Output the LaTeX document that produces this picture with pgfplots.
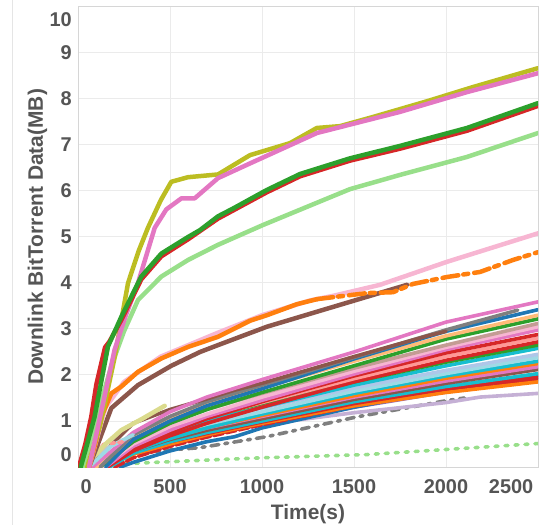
\documentclass[border=0pt]{standalone}
\usepackage{fontspec}
\setmainfont{Liberation Sans}
\usepackage{pgfplots}
\pgfplotsset{compat=1.18}

\definecolor{textgray}{HTML}{555555}
\definecolor{gridgray}{HTML}{EBEBEB}
\definecolor{bordergray}{HTML}{D6D6D6}
\definecolor{tbblue}{HTML}{1F77B4}
\definecolor{tborange}{HTML}{FF7F0E}
\definecolor{tbgreen}{HTML}{2CA02C}
\definecolor{tbred}{HTML}{D62728}
\definecolor{tbpurple}{HTML}{9467BD}
\definecolor{tbbrown}{HTML}{8C564B}
\definecolor{tbpink}{HTML}{E377C2}
\definecolor{tbgray}{HTML}{7F7F7F}
\definecolor{tbolive}{HTML}{BCBD22}
\definecolor{tbcyan}{HTML}{17BECF}
\definecolor{ltblue}{HTML}{AEC7E8}
\definecolor{ltorange}{HTML}{FFBB78}
\definecolor{ltgreen}{HTML}{98DF8A}
\definecolor{ltred}{HTML}{FF9896}
\definecolor{ltpurple}{HTML}{C5B0D5}
\definecolor{ltbrown}{HTML}{C49C94}
\definecolor{ltpink}{HTML}{F7B6D2}
\definecolor{ltgray}{HTML}{C7C7C7}
\definecolor{ltolive}{HTML}{DBDB8D}
\definecolor{ltcyan}{HTML}{9EDAE5}

\begin{document}
\begin{tikzpicture}
\useasboundingbox (-78bp,-58bp) rectangle (469bp,467bp);
\draw[draw=black!10, line width=1bp] (-65bp,-58bp) -- (-65bp,467bp);
\begin{axis}[
    scale only axis,
    width=460bp, height=460bp,
    xmin=0, xmax=2500, ymin=0, ymax=10,
    xtick={0,500,1000,1500,2000,2500},
    xticklabels={\makebox[0pt][l]{\hspace{2.5bp}0},500,1000,1500,2000,\makebox[0pt][r]{2500\hspace{4.75bp}}},
    ytick={0,1,2,3,4,5,6,7,8,9,10},
    yticklabels={\raisebox{6bp}[0pt][0pt]{0},1,2,3,4,5,6,7,8,9,\raisebox{-19.5bp}[0pt][0pt]{10}},
    /pgf/number format/assume math mode=true,
    major tick length=0pt,
    grid=major,
    grid style={draw=gridgray, line width=1bp},
    axis line style={draw=bordergray, line width=1bp},
    xticklabel style={font=\fontsize{20}{24}\selectfont\bfseries, text=textgray, inner sep=0pt, anchor=north, yshift=-12bp},
    yticklabel style={font=\fontsize{20}{24}\selectfont\bfseries, text=textgray, inner sep=0pt, anchor=east, xshift=-6bp},
    xlabel={Time(s)},
    ylabel={Downlink BitTorrent Data(MB)},
    xlabel style={at={(axis description cs:0.5,-0.0804)}, anchor=north, inner sep=0pt, font=\fontsize{21}{25}\selectfont\bfseries, text=textgray},
    ylabel style={at={(axis description cs:-0.0761,0.5)}, anchor=base, inner sep=0pt, font=\fontsize{21}{25}\selectfont\bfseries, text=textgray},
    every axis plot/.append style={line join=round, line cap=round},
    clus/.style={line width=3.6bp},
    big/.style={line width=4.5bp},
]
% lower cluster
\addplot[clus, ltgreen, dash pattern=on 3bp off 7bp] coordinates {(150,0.02) (300,0.08) (700,0.15) (1000,0.2) (1570,0.27) (2114,0.41) (2500,0.51)};
\addplot[clus, tbgray, dash pattern=on 8bp off 6bp on 3bp off 6bp] coordinates {(350,0.3) (527,0.38) (663,0.42) (1027,0.66) (1516,1.09) (2000,1.44) (2100,1.5)};
\addplot[clus, ltpurple] coordinates {(100,0) (300,0.3) (500,0.5) (700,0.68) (918,0.88) (1500,1.18) (2000,1.4) (2185,1.52) (2500,1.6)};
\addplot[clus, tbpurple] coordinates {(140,0) (300,0.3) (500,0.52) (700,0.7) (1000,0.92) (1500,1.3) (2000,1.63) (2500,1.95)};
\addplot[clus, tbblue] coordinates {(230,0) (300,0.1) (500,0.35) (700,0.55) (853,0.66) (1000,0.85) (1500,1.3) (2000,1.68) (2500,2.0)};
\addplot[clus, tbred, dash pattern=on 10bp off 3bp] coordinates {(200,0) (300,0.2) (500,0.45) (700,0.65) (1000,0.92) (1500,1.33) (2000,1.65) (2500,1.9)};
\addplot[clus, tborange] coordinates {(150,0) (300,0.28) (500,0.5) (700,0.7) (1000,0.95) (1500,1.33) (2000,1.62) (2500,1.85)};
\addplot[clus, tbred] coordinates {(120,0) (300,0.32) (500,0.55) (700,0.73) (1000,0.98) (1500,1.38) (2000,1.7) (2500,1.95)};
\addplot[clus, tbcyan] coordinates {(170,0) (300,0.3) (500,0.55) (700,0.75) (1000,1.0) (1500,1.42) (2000,1.75) (2500,2.03)};
\addplot[clus, tbbrown] coordinates {(140,0) (300,0.35) (500,0.6) (700,0.8) (1000,1.05) (1500,1.47) (2000,1.82) (2500,2.12)};
\addplot[clus, tbpink] coordinates {(120,0) (300,0.4) (500,0.65) (700,0.85) (1000,1.1) (1500,1.52) (2000,1.87) (2500,2.18)};
\addplot[clus, tborange] coordinates {(150,0) (300,0.38) (500,0.65) (700,0.86) (1000,1.12) (1500,1.55) (2000,1.93) (2500,2.25)};
\addplot[clus, tbcyan] coordinates {(160,0) (300,0.35) (500,0.62) (700,0.85) (1000,1.15) (1500,1.6) (2000,1.98) (2500,2.3)};
\addplot[clus, ltcyan] coordinates {(120,0) (300,0.45) (500,0.72) (700,0.93) (1000,1.2) (1500,1.65) (2000,2.03) (2500,2.38)};
\addplot[clus, ltblue] coordinates {(80,0) (300,0.55) (500,0.8) (700,1.0) (1000,1.28) (1500,1.72) (2000,2.1) (2500,2.45)};
\addplot[clus, tbcyan] coordinates {(130,0) (300,0.45) (500,0.75) (700,1.0) (1000,1.3) (1500,1.78) (2000,2.2) (2500,2.58)};
\addplot[clus, tbgreen] coordinates {(100,0) (300,0.55) (500,0.85) (700,1.08) (1000,1.38) (1500,1.85) (2000,2.28) (2500,2.65)};
\addplot[clus, tbred] coordinates {(160,0) (300,0.35) (500,0.68) (700,0.95) (1000,1.3) (1500,1.85) (2000,2.32) (2500,2.72)};
\addplot[clus, ltred] coordinates {(100,0) (300,0.5) (500,0.82) (700,1.08) (1000,1.4) (1500,1.92) (2000,2.4) (2500,2.8)};
\addplot[clus, tbred] coordinates {(110,0) (300,0.42) (500,0.75) (700,1.05) (1000,1.42) (1500,1.98) (2000,2.48) (2500,2.88)};
\addplot[clus, tbpink] coordinates {(150,0) (300,0.45) (500,0.8) (700,1.1) (1000,1.45) (1500,2.02) (2000,2.55) (2500,2.98)};
\addplot[clus, ltpink] coordinates {(130,0) (300,0.5) (500,0.88) (700,1.15) (1000,1.52) (1500,2.08) (2000,2.6) (2500,3.05)};
\addplot[clus, ltbrown] coordinates {(90,0) (300,0.6) (500,0.98) (700,1.25) (1000,1.6) (1500,2.15) (2000,2.65) (2500,3.12)};
\addplot[clus, tbgreen] coordinates {(120,0) (300,0.55) (500,0.95) (700,1.25) (1000,1.62) (1500,2.2) (2000,2.78) (2500,3.22)};
\addplot[clus, ltorange] coordinates {(100,0) (300,0.65) (500,1.05) (700,1.35) (1000,1.72) (1500,2.3) (2000,2.85) (2500,3.3)};
\addplot[clus, tbblue] coordinates {(150,0) (300,0.6) (500,1.0) (700,1.33) (1000,1.7) (1500,2.35) (2000,2.95) (2500,3.42)};
\addplot[clus, tbgray] coordinates {(120,0) (300,0.7) (500,1.1) (700,1.42) (1000,1.78) (1500,2.38) (2000,2.98) (2390,3.41)};
\addplot[clus, tbbrown] coordinates {(60,0) (300,0.95) (500,1.25) (700,1.48) (850,1.67) (1000,1.82) (1500,2.4) (1900,2.85) (2000,2.95)};
\addplot[clus, tbpink] coordinates {(80,0) (300,0.75) (500,1.2) (700,1.52) (1000,1.9) (1500,2.5) (2000,3.15) (2500,3.59)};
\addplot[clus, ltgray] coordinates {(40,0.1) (150,0.4) (250,0.6)};
\addplot[clus, ltcyan] coordinates {(60,0) (180,0.45) (300,0.7)};
\addplot[clus, ltred, dash pattern=on 4bp off 4bp] coordinates {(50,0.4) (150,0.5) (250,0.55)};
\addplot[big, ltolive] coordinates {(80,0.2) (150,0.5) (235,0.8) (350,1.05) (471,1.33)};
% upper group
\addplot[big, tbbrown] coordinates {(60,0) (109,0.51) (181,1.28) (326,1.78) (507,2.2) (663,2.5) (761,2.65) (1027,3.05) (1386,3.48) (1788,3.96)};
\addplot[big, ltpink] coordinates {(60,0) (150,1.3) (250,1.85) (450,2.4) (761,2.92) (1000,3.3) (1261,3.62) (1386,3.72) (1641,3.96) (2005,4.46) (2500,5.08)};
\addplot[big, tborange] coordinates {(60,0) (100,0.6) (127,1.09) (181,1.6) (236,1.75) (326,2.07) (453,2.36) (598,2.61) (761,2.83) (935,3.18) (1027,3.3) (1190,3.54) (1300,3.65)};
\addplot[big, tborange, dash pattern=on 16bp off 5bp on 5bp off 6bp] coordinates {(1300,3.65) (1570,3.78) (1712,3.8) (1821,3.98) (2005,4.13) (2185,4.24) (2364,4.5) (2500,4.67)};
\addplot[big, ltgreen] coordinates {(25,0) (54,0.37) (110,1.2) (181,2.2) (250,2.95) (326,3.63) (453,4.14) (598,4.5) (761,4.83) (1005,5.26) (1332,5.8) (1478,6.04) (1750,6.35) (2114,6.74) (2500,7.26)};
\addplot[big, tbolive] coordinates {(50,0) (120,0.9) (200,2.4) (272,4.0) (330,4.7) (380,5.2) (450,5.8) (507,6.2) (598,6.3) (761,6.36) (935,6.78) (1152,7.04) (1298,7.37) (1424,7.41) (1604,7.61) (1896,7.95) (2147,8.26) (2500,8.67)};
\addplot[big, tbpink] coordinates {(60,0) (109,0.88) (199,2.55) (260,3.3) (326,4.0) (417,5.2) (480,5.6) (562,5.84) (634,5.84) (761,6.28) (935,6.6) (1298,7.26) (1750,7.72) (2114,8.15) (2500,8.56)};
\addplot[big, tbred] coordinates {(5,0) (40,0.5) (72,1.09) (100,1.8) (147,2.6) (170,2.72) (236,3.2) (344,4.08) (453,4.58) (598,4.95) (761,5.4) (1025,5.97) (1207,6.32) (1478,6.66) (1750,6.92) (2114,7.31) (2500,7.85)};
\addplot[big, tbgreen] coordinates {(15,0) (50,0.5) (90,1.09) (163,2.62) (236,3.27) (344,4.14) (453,4.64) (598,5.0) (663,5.15) (761,5.45) (843,5.62) (1025,6.02) (1207,6.37) (1478,6.71) (1750,6.98) (2114,7.37) (2500,7.91)};
\end{axis}
\end{tikzpicture}
\end{document}
